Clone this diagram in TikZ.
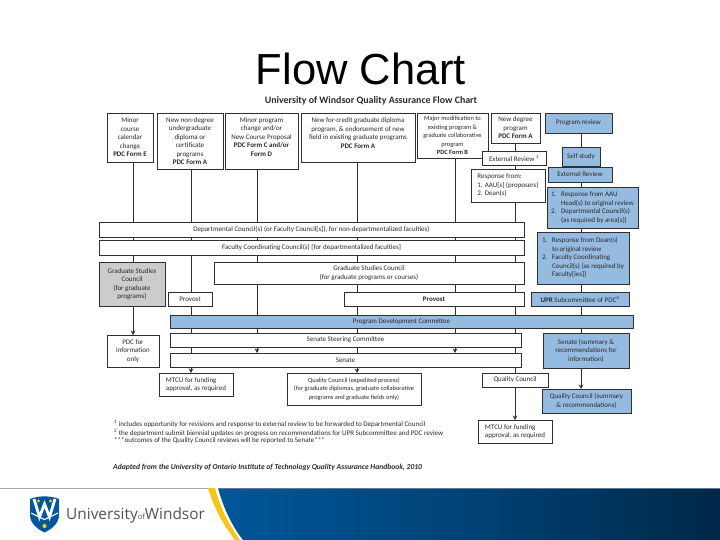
\documentclass[tikz,border=0pt]{standalone}
\usepackage{fontspec}
\setmainfont{Carlito}
\newfontfamily\titlefont{Liberation Sans}
\newfontfamily\logofont{Open Sans}
\usetikzlibrary{arrows.meta}
\definecolor{blueb}{HTML}{95BBE0}
\definecolor{greyb}{HTML}{CCCCCC}
\definecolor{inkc}{HTML}{2A2A2A}
\definecolor{linec}{HTML}{303030}
\definecolor{navya}{HTML}{00579B}
\definecolor{navyb}{HTML}{002848}
\definecolor{goldc}{HTML}{F5C518}
\tikzset{
  plainbox/.style={draw=linec,line width=0.8pt,fill=white,inner sep=0pt,outer sep=0pt,align=center,text=inkc,
    font=\fontsize{7}{8.5}\selectfont},
  leftbox/.style={plainbox,align=left},
  bluebox/.style={plainbox,fill=blueb},
  blueleft/.style={bluebox,align=left},
  greybox/.style={plainbox,fill=greyb},
  smallbox/.style={plainbox,font=\fontsize{6.4}{8.5}\selectfont},
  wire/.style={draw=linec,line width=0.8pt},
  wirearrow/.style={wire,-{Stealth[length=4.5pt,width=4.5pt]}},
  note/.style={anchor=west,inner sep=0pt,text=inkc,font=\fontsize{7}{8}\selectfont}
}
\newcommand{\bx}[7][plainbox]{%
  \pgfmathsetmacro{\bxm}{(#3+#5)/2}\pgfmathsetmacro{\bym}{(#4+#6)/2}%
  \pgfmathsetmacro{\bxw}{#5-#3}\pgfmathsetmacro{\bxh}{#6-#4}%
  \node[#1,minimum width=\bxw pt,minimum height=\bxh pt] (#2) at (\bxm,\bym) {#7};}
\newcommand{\hang}[1]{\makebox[10pt][l]{#1}}
\begin{document}
\begin{tikzpicture}[x=1pt,y=-1pt]
\useasboundingbox (0,0) rectangle (720,540);
\fill[white] (0,0) rectangle (720,540);

% title
\node[inner sep=0pt,font=\titlefont\fontsize{43.5}{50}\selectfont,text=black] (title) at (361,69) {Flow Chart};
\node[inner sep=0pt,font=\bfseries\fontsize{9.9}{11}\selectfont,text=inkc] (subtitle) at (371,101) {University of Windsor Quality Assurance Flow Chart};

% top row
\bx{mc}{107}{113}{153}{162}{Minor\\course\\calendar\\change\\\textbf{PDC Form E}}
\bx{nn}{157}{113}{223}{169}{New non-degree\\undergraduate\\diploma or\\certificate\\programs\\\textbf{PDC Form A}}
\bx{mp}{225}{113}{298}{169}{Minor program\\change and/or\\New Course Proposal\\\textbf{PDC Form C and/or}\\\textbf{Form D}\\~}
\bx{nc}{301}{113}{415}{162}{New for-credit graduate diploma\\program, \& endorsement of new\\field in existing graduate programs\\\textbf{PDC Form A}\\~}
\bx[smallbox]{mm}{417}{113}{488}{158}{Major modification to\\existing program \&\\graduate collaborative\\program\\\textbf{PDC Form B}}
\bx{nd}{491}{113}{540}{143}{New degree\\program\\\textbf{PDC Form A}}
\bx{er}{482}{151}{546}{165}{External Review \textsuperscript{1}}
\bx[leftbox]{rs}{471}{169}{545}{202}{Response from:\\1. AAU[s] (proposers)\\2. Dean(s)}

% right column
\bx[bluebox]{pr}{545}{113}{612}{133}{Program review}
\bx[bluebox]{ss}{562}{147}{600}{166}{Self study}
\bx[bluebox]{xr}{548}{167}{612}{182}{External Review}
\bx[blueleft]{ba}{547}{187}{638}{228}{\hang{1.}Response from AAU\\\hspace*{10pt}Head(s) to original review\\\hang{2.}Departmental Council(s)\\\hspace*{10pt}(as required by area[s])}
\bx[blueleft]{bb}{537}{232}{629}{284}{\hang{1.}Response from Dean(s)\\\hspace*{10pt}to original review\\\hang{2.}Faculty Coordinating\\\hspace*{10pt}Council(s) (as required by\\\hspace*{10pt}Faculty[ies])}
\bx[bluebox]{up}{531}{292}{629}{306}{\textbf{UPR} Subcommittee of PDC\textsuperscript{2}}
\bx[bluebox]{ssn}{543}{333}{629}{368}{Senate (summary \&\\recommendations for\\information)}
\bx[bluebox]{qs}{542}{389}{631}{413}{Quality Council (summary\\\& recommendations)}

% wide bars
\bx{de}{99}{222}{524}{237}{Departmental Council(s) (or Faculty Council[s]), for non-departmentalized faculties)}
\bx{fa}{99}{240}{524}{255}{Faculty Coordinating Council(s) [for departmentalized faculties]}
\bx[greybox]{gs}{99}{262}{165}{306}{Graduate Studies\\Council\\(for graduate\\programs)}
\bx{gc}{214}{262}{524}{284}{Graduate Studies Council\\(for graduate programs or courses)}
\bx{pl}{168}{292}{212}{306}{Provost}
\bx{pg}{344}{292}{524}{306}{\textbf{Provost}}
\bx[bluebox]{pd}{170}{315}{633}{328}{Program Development Committee}
\bx{st}{170}{333}{521}{347}{Senate Steering Committee}
\bx{se}{170}{353}{521}{367}{Senate}

% bottom boxes
\bx{pi}{107}{335}{159}{367}{PDC for\\information\\only}
\bx[leftbox]{ml}{159}{373}{233}{396}{MTCU for funding\\approval, as required}
\bx[smallbox]{qe}{287}{373}{421}{405}{Quality Council (expedited process)\\(for graduate diplomas, graduate collaborative\\programs and graduate fields only)}
\bx{qc}{482}{373}{548}{387}{Quality Council}
\bx[leftbox]{mr}{478}{420}{552}{443}{MTCU for funding\\approval, as required}

% connector columns
\coordinate (xa) at (133,0);
\coordinate (xb) at (191,0);
\coordinate (xc) at (257,0);
\coordinate (xd) at (357,0);
\coordinate (xe) at (455,0);
\coordinate (xf) at (515,0);
\coordinate (xg) at (581,0);

\draw[wire] (xa |- mc.south) -- (xa |- de.north);
\foreach \p/\q in {de/fa,fa/gs} \draw[wire] (xa |- \p.south) -- (xa |- \q.north);
\draw[wirearrow] (xa |- gs.south) -- (xa |- pi.north);

\foreach \p/\q in {nn/de,de/fa,fa/pl,pl/pd,pd/st,st/se} \draw[wire] (xb |- \p.south) -- (xb |- \q.north);
\draw[wirearrow] (xb |- se.south) -- (xb |- ml.north);

\foreach \p/\q in {mp/de,de/fa,fa/gc,gc/pd,pd/st} \draw[wire] (xc |- \p.south) -- (xc |- \q.north);
\draw[wirearrow] (xc |- st.south) -- (xc |- se.north);

\foreach \p/\q in {nc/de,de/fa,fa/gc,gc/pg,pg/pd,pd/st,st/se} \draw[wire] (xd |- \p.south) -- (xd |- \q.north);
\draw[wirearrow] (xd |- se.south) -- (xd |- qe.north);

\foreach \p/\q in {mm/de,de/fa,fa/gc,gc/pg,pg/pd,pd/st} \draw[wire] (xe |- \p.south) -- (xe |- \q.north);
\draw[wirearrow] (xe |- st.south) -- (xe |- se.north);

\foreach \p/\q in {nd/er,er/rs,rs/de,de/fa,fa/gc,gc/pg,pg/pd,pd/st,st/se,se/qc} \draw[wire] (xf |- \p.south) -- (xf |- \q.north);
\draw[wirearrow] (xf |- qc.south) -- (xf |- mr.north);

\foreach \p/\q in {pr/ss,ss/xr,xr/ba,ba/bb,bb/up,up/pd,pd/ssn} \draw[wire] (xg |- \p.south) -- (xg |- \q.north);
\draw[wirearrow] (xg |- ssn.south) -- (xg |- qs.north);

% notes
\node[note] (n1) at (114,424) {\textsuperscript{1} includes opportunity for revisions and response to external review to be forwarded to Departmental Council};
\node[note] (n2) at (114,433) {\textsuperscript{2} the department submit biennial updates on progress on recommendations for UPR Subcommittee and PDC review};
\node[note] (n3) at (114,441) {***outcomes of the Quality Council reviews will be reported to Senate***};
\node[note,font=\bfseries\itshape\fontsize{7.6}{9}\selectfont] (n4) at (113,467) {Adapted from the University of Ontario Institute of Technology Quality Assurance Handbook, 2010};

% footer
\draw[draw=black!35,line width=0.8pt] (0,488) -- (209,488);
\fill[goldc] (208,488) .. controls (214,508) and (224,526) .. (235,540) -- (240,540) .. controls (229,525) and (220,507) .. (215,488) -- cycle;
\shade[left color=navya,right color=navyb,middle color=navya!55!navyb]
  (218,488) .. controls (223,507) and (232,526) .. (243,540) -- (720,540) -- (720,488) -- cycle;
\draw[draw=black!35!blueb,line width=0.6pt] (218,488) -- (720,488);

% crest
\fill[navya] (30,499) .. controls (38,495.5) and (51,495.5) .. (59,499) -- (59,515)
  .. controls (59,523) and (52,529) .. (44.5,532.5) .. controls (37,529) and (30,523) .. (30,515) -- cycle;
\draw[white,line width=2.8pt] (34,499) -- (39.5,517) -- (44.5,504) -- (49.5,517) -- (55,499);
\draw[white,line width=1.1pt] (31,513) -- (44.5,519.5) -- (58,513);
\fill[goldc] (38.5,501) circle (1.6) (50.5,501) circle (1.6);
\fill[goldc] (44.5,526) circle (2.1);

% wordmark
\node[inner sep=0pt,anchor=west,text=black!68,font=\logofont\fontsize{15.4}{17}\selectfont] (logo) at (66,515)
  {University\raisebox{-0.4pt}{\fontsize{7.5}{8}\selectfont of}Windsor};
\end{tikzpicture}
\end{document}
